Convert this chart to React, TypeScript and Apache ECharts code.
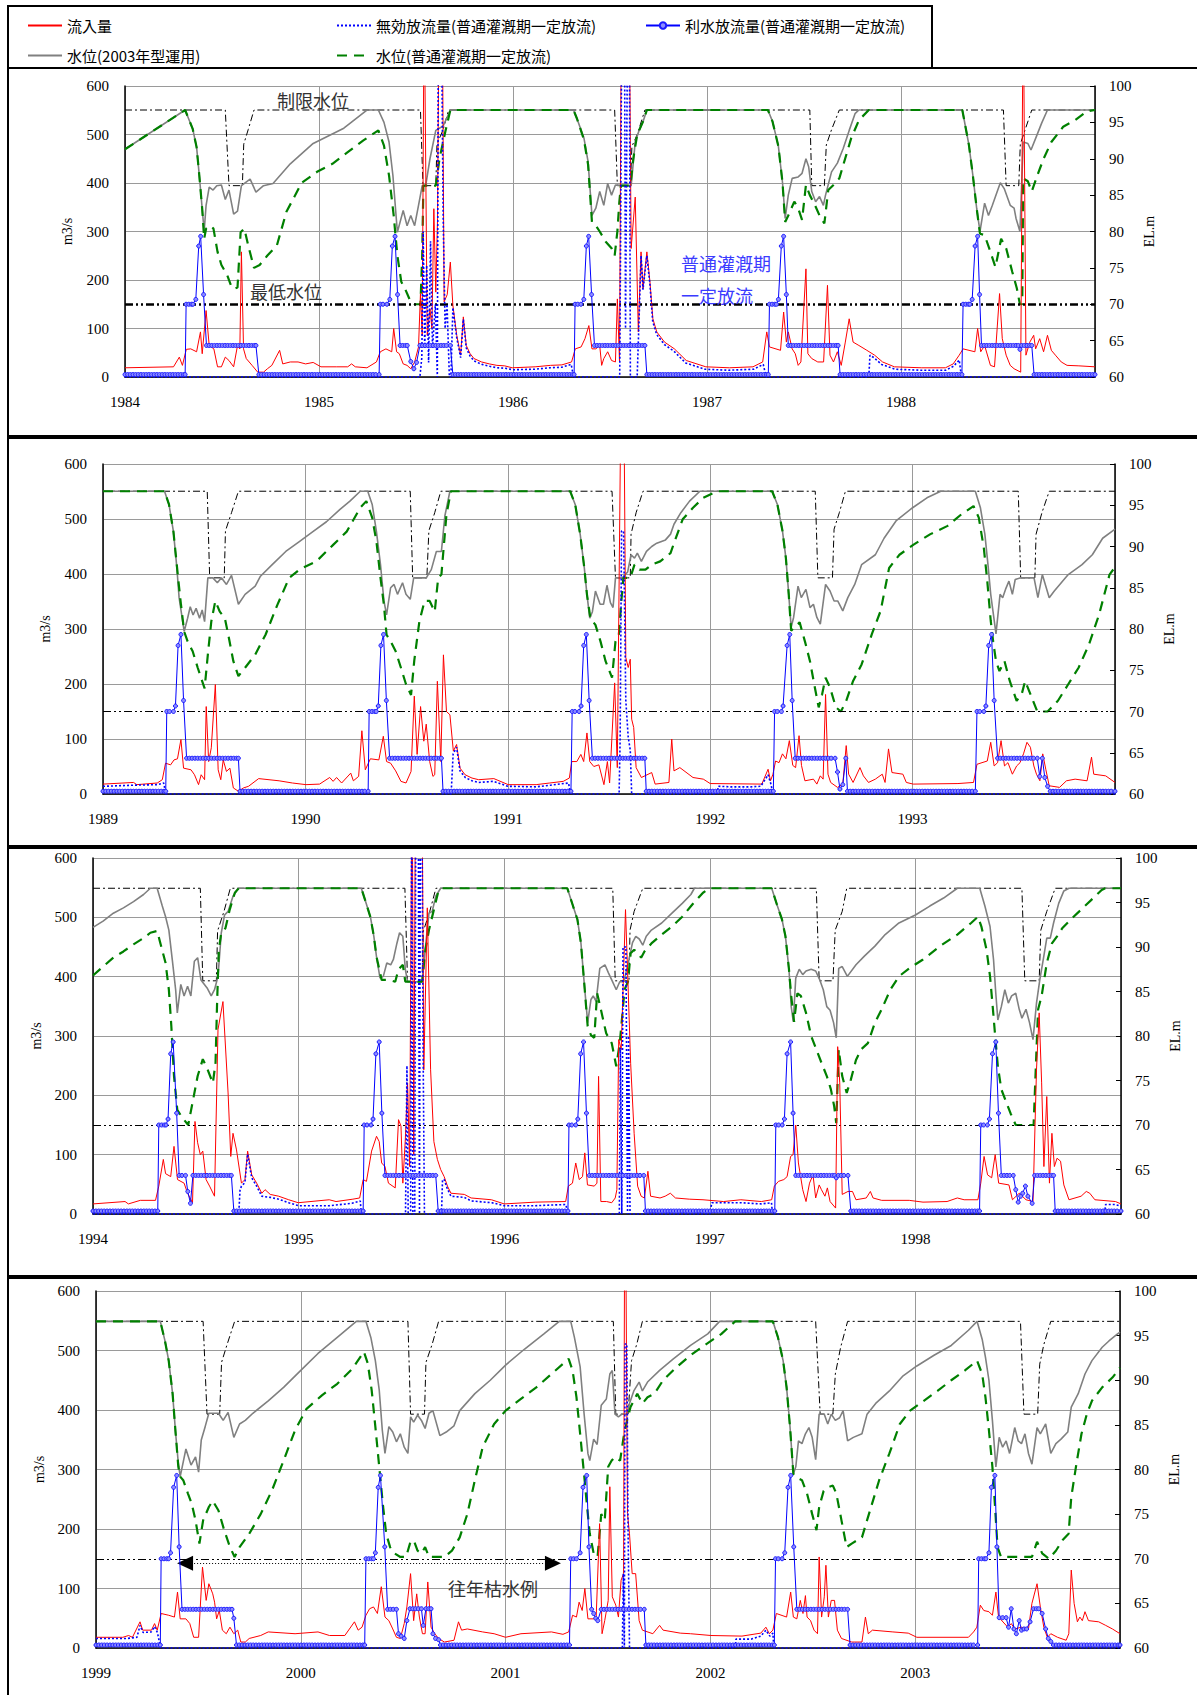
import React, { useEffect, useRef } from "react";
import * as echarts from "echarts";

// ---------- data (x = fractional year, flows in m3/s, levels in EL.m) ----------
const panelStartYears = [1984, 1989, 1994, 1999];

// ---- Panel 1 : 1984-1988 ----
const inflowP1 = [[1984,19],[1984.25,21],[1984.28,41],[1984.296,24],[1984.316,57],[1984.339,58],[1984.369,52],[1984.389,93],[1984.398,48],[1984.418,137],[1984.434,65],[1984.458,58],[1984.477,21],[1984.497,21],[1984.517,41],[1984.536,34],[1984.56,21],[1984.58,65],[1984.592,58],[1984.6,258],[1984.611,58],[1984.625,38],[1984.655,24],[1984.684,10],[1984.714,10],[1984.734,17],[1984.757,24],[1984.797,55],[1984.813,27],[1984.852,31],[1984.892,31],[1984.931,27],[1984.97,30],[1985.01,21],[1985.089,21],[1985.148,21],[1985.168,27],[1985.187,21],[1985.247,19],[1985.296,31],[1985.316,52],[1985.345,58],[1985.375,52],[1985.385,100],[1985.4,52],[1985.414,48],[1985.434,27],[1985.454,24],[1985.473,17],[1985.493,31],[1985.513,62],[1985.523,172],[1985.532,86],[1985.542,800],[1985.558,86],[1985.572,141],[1985.582,100],[1985.592,347],[1985.602,175],[1985.611,326],[1985.621,900],[1985.635,800],[1985.645,155],[1985.661,170],[1985.677,237],[1985.69,148],[1985.71,86],[1985.73,45],[1985.744,124],[1985.759,65],[1985.779,48],[1985.799,38],[1985.838,31],[1985.878,27],[1985.917,24],[1985.957,23],[1985.996,19],[1986.114,21],[1986.193,24],[1986.252,25],[1986.302,31],[1986.321,58],[1986.351,62],[1986.371,79],[1986.391,106],[1986.407,58],[1986.427,58],[1986.447,65],[1986.457,24],[1986.468,38],[1986.488,52],[1986.508,34],[1986.528,31],[1986.538,161],[1986.549,31],[1986.559,800],[1986.573,700],[1986.585,900],[1986.599,800],[1986.609,265],[1986.63,371],[1986.646,93],[1986.66,258],[1986.67,182],[1986.69,258],[1986.706,196],[1986.721,120],[1986.741,93],[1986.781,72],[1986.832,58],[1986.893,34],[1986.994,21],[1987.115,19],[1987.237,21],[1987.287,31],[1987.308,93],[1987.322,62],[1987.379,55],[1987.395,134],[1987.409,72],[1987.419,93],[1987.439,58],[1987.455,48],[1987.47,24],[1987.484,31],[1987.51,223],[1987.52,48],[1987.54,38],[1987.571,31],[1987.601,31],[1987.621,189],[1987.634,45],[1987.652,31],[1987.672,52],[1987.692,24],[1987.713,72],[1987.733,120],[1987.753,72],[1987.783,65],[1987.824,55],[1987.864,45],[1987.905,31],[1987.966,21],[1988.107,19],[1988.229,19],[1988.269,27],[1988.3,45],[1988.32,58],[1988.381,52],[1988.395,100],[1988.411,52],[1988.431,65],[1988.461,24],[1988.482,21],[1988.508,172],[1988.522,79],[1988.542,45],[1988.563,24],[1988.583,17],[1988.617,10],[1988.63,800],[1988.644,45],[1988.664,72],[1988.684,86],[1988.694,58],[1988.715,79],[1988.735,52],[1988.755,86],[1988.775,55],[1988.796,45],[1988.826,31],[1988.856,24],[1988.917,23],[1989,21]];
const wasteP1 = [[1984,0],[1985.52,0],[1985.53,40],[1985.537,300],[1985.545,60],[1985.555,230],[1985.565,30],[1985.575,280],[1985.585,60],[1985.6,150],[1985.61,0],[1985.615,700],[1985.632,700],[1985.64,330],[1985.65,100],[1985.66,150],[1985.672,0],[1985.68,0],[1985.69,143],[1985.71,81],[1985.73,40],[1985.744,119],[1985.759,60],[1985.779,43],[1985.8,33],[1985.84,26],[1985.88,22],[1985.92,19],[1985.96,18],[1986.0,15],[1986.11,16],[1986.19,19],[1986.25,20],[1986.3,26],[1986.312,0],[1986.55,0],[1986.555,300],[1986.56,700],[1986.575,700],[1986.58,100],[1986.59,700],[1986.6,700],[1986.605,0],[1986.64,0],[1986.65,120],[1986.66,250],[1986.67,180],[1986.69,250],[1986.706,190],[1986.72,115],[1986.74,88],[1986.78,67],[1986.83,53],[1986.89,29],[1986.99,16],[1987.11,14],[1987.24,16],[1987.29,26],[1987.305,0],[1987.834,0],[1987.84,45],[1987.86,40],[1987.9,26],[1987.97,16],[1988.1,14],[1988.23,14],[1988.27,22],[1988.3,35],[1988.312,0],[1989,0]];
const releaseP1 = [[1984,5],[1984.31,5],[1984.315,150],[1984.35,150],[1984.365,160],[1984.38,270],[1984.39,290],[1984.405,170],[1984.42,65],[1984.675,65],[1984.69,5],[1985.31,5],[1985.316,150],[1985.35,150],[1985.365,160],[1985.378,270],[1985.392,290],[1985.405,170],[1985.418,65],[1985.455,65],[1985.473,32],[1985.489,17],[1985.503,30],[1985.52,65],[1985.677,65],[1985.69,5],[1986.315,5],[1986.32,150],[1986.35,150],[1986.365,160],[1986.378,270],[1986.39,290],[1986.405,170],[1986.42,65],[1986.68,65],[1986.69,5],[1987.316,5],[1987.322,150],[1987.358,150],[1987.368,160],[1987.383,270],[1987.395,290],[1987.409,170],[1987.419,65],[1987.676,65],[1987.686,5],[1988.314,5],[1988.32,150],[1988.355,150],[1988.367,160],[1988.382,270],[1988.395,290],[1988.405,170],[1988.415,65],[1988.605,65],[1988.613,57],[1988.622,65],[1988.674,65],[1988.686,5],[1989,5]];
const levelP1 = [[1984,91.3],[1984.31,96.7],[1984.349,94.1],[1984.369,91.6],[1984.383,87.7],[1984.398,83.1],[1984.408,80.0],[1984.418,83.6],[1984.434,86.1],[1984.454,85.7],[1984.473,86.3],[1984.497,86.4],[1984.517,84.4],[1984.536,85.7],[1984.56,82.4],[1984.58,82.8],[1984.6,86.3],[1984.645,87.2],[1984.675,85.4],[1984.714,86.3],[1984.763,86.6],[1984.852,89.3],[1984.97,92.1],[1985.128,94.2],[1985.247,96.7],[1985.306,96.7],[1985.335,95.0],[1985.361,92.3],[1985.381,87.7],[1985.404,79.9],[1985.434,82.9],[1985.454,80.8],[1985.473,82.2],[1985.493,80.8],[1985.513,83.6],[1985.532,86.3],[1985.55,86.3],[1985.572,90.0],[1985.602,93.9],[1985.64,94.5],[1985.677,96.7],[1986.312,96.7],[1986.33,95.5],[1986.366,92.8],[1986.387,89.6],[1986.407,82.2],[1986.427,83.2],[1986.447,85.5],[1986.468,83.6],[1986.488,86.6],[1986.508,85.0],[1986.528,86.4],[1986.609,86.3],[1986.63,92.3],[1986.65,93.9],[1986.67,95.1],[1986.69,96.7],[1987.314,96.7],[1987.338,95.1],[1987.368,91.7],[1987.389,86.8],[1987.403,81.8],[1987.419,85.0],[1987.439,87.3],[1987.47,87.5],[1987.49,88.0],[1987.51,90.0],[1987.524,88.9],[1987.54,85.5],[1987.56,84.1],[1987.58,84.8],[1987.6,83.6],[1987.611,85.0],[1987.642,88.2],[1987.672,89.4],[1987.702,91.4],[1987.733,93.9],[1987.763,96.2],[1987.783,96.7],[1988.316,96.7],[1988.35,91.9],[1988.37,87.8],[1988.39,83.2],[1988.407,80.0],[1988.431,83.9],[1988.451,82.2],[1988.471,83.6],[1988.512,86.7],[1988.532,85.9],[1988.563,83.6],[1988.583,83.2],[1988.593,81.8],[1988.613,80.0],[1988.63,92.3],[1988.654,92.1],[1988.67,91.2],[1988.694,92.8],[1988.725,94.9],[1988.755,96.7],[1989,96.7]];
const greenP1 = [[1984,91.3],[1984.31,96.7],[1984.349,94.1],[1984.369,91.6],[1984.383,87.7],[1984.398,83.1],[1984.408,79.0],[1984.418,80.4],[1984.44,80.8],[1984.456,80.4],[1984.477,77.2],[1984.497,75.4],[1984.527,74.0],[1984.546,72.6],[1984.56,72.1],[1984.58,72.3],[1984.596,79.9],[1984.615,80.4],[1984.635,78.1],[1984.665,75.0],[1984.694,75.4],[1984.734,76.7],[1984.783,78.1],[1984.832,82.7],[1984.911,86.7],[1984.99,88.2],[1985.069,89.3],[1985.148,90.9],[1985.227,92.5],[1985.306,93.9],[1985.335,91.8],[1985.361,87.7],[1985.385,82.2],[1985.404,76.7],[1985.424,73.1],[1985.444,72.1],[1985.473,70.3],[1985.493,70.0],[1985.523,70.0],[1985.532,76.7],[1985.538,86.3],[1985.602,86.3],[1985.621,90.0],[1985.651,93.7],[1985.677,96.7],[1986.312,96.7],[1986.33,95.5],[1986.366,92.6],[1986.387,89.2],[1986.407,81.3],[1986.427,80.8],[1986.447,80.0],[1986.478,78.6],[1986.508,77.7],[1986.524,76.7],[1986.538,80.0],[1986.548,84.0],[1986.556,86.3],[1986.605,86.3],[1986.62,90.0],[1986.64,93.3],[1986.67,95.1],[1986.69,96.7],[1987.314,96.7],[1987.338,95.1],[1987.368,91.7],[1987.389,86.8],[1987.403,81.3],[1987.419,82.2],[1987.45,84.1],[1987.47,83.2],[1987.49,81.6],[1987.51,86.4],[1987.53,85.0],[1987.557,83.6],[1987.58,82.2],[1987.605,81.1],[1987.625,85.7],[1987.652,86.4],[1987.682,87.3],[1987.712,90.0],[1987.743,92.8],[1987.783,95.3],[1987.834,96.7],[1988.316,96.7],[1988.35,91.9],[1988.37,87.8],[1988.39,83.2],[1988.407,79.7],[1988.431,79.5],[1988.461,77.2],[1988.487,75.1],[1988.516,79.0],[1988.542,77.7],[1988.573,74.5],[1988.597,72.2],[1988.613,70.0],[1988.625,70.0],[1988.63,87.3],[1988.654,86.9],[1988.674,85.5],[1988.704,87.8],[1988.735,90.0],[1988.775,92.3],[1988.836,94.4],[1988.897,95.3],[1988.957,96.5],[1989,96.7]];
const limitP1 = [[1984,96.7],[1984.517,96.7],[1984.536,86.3],[1984.605,86.3],[1984.612,92.0],[1984.635,94.0],[1984.665,96.7],[1985.523,96.7],[1985.536,86.3],[1985.602,86.3],[1985.608,92.0],[1985.64,94.0],[1985.668,96.7],[1986.524,96.7],[1986.538,86.3],[1986.605,86.3],[1986.613,91.7],[1986.64,93.3],[1986.68,96.7],[1987.53,96.7],[1987.54,86.3],[1987.605,86.3],[1987.615,91.9],[1987.642,94.0],[1987.682,96.7],[1988.528,96.7],[1988.542,86.3],[1988.607,86.3],[1988.615,92.0],[1988.64,94.0],[1988.674,96.7],[1989,96.7]];

// ---- Panel 2 : 1989-1993 ----
const inflowP2 = [[1989,18],[1989.151,21],[1989.167,17],[1989.268,20],[1989.293,26],[1989.309,56],[1989.334,53],[1989.351,62],[1989.368,64],[1989.385,99],[1989.398,47],[1989.435,44],[1989.452,35],[1989.472,17],[1989.485,35],[1989.502,26],[1989.51,159],[1989.522,59],[1989.535,84],[1989.555,199],[1989.569,44],[1989.582,26],[1989.594,62],[1989.61,41],[1989.627,47],[1989.644,11],[1989.669,5],[1989.694,11],[1989.719,14],[1989.769,28],[1989.87,24],[1989.936,20],[1990.003,17],[1990.07,18],[1990.12,30],[1990.137,23],[1990.154,30],[1990.179,20],[1990.224,38],[1990.237,24],[1990.263,32],[1990.279,115],[1990.296,44],[1990.321,64],[1990.363,62],[1990.385,105],[1990.401,59],[1990.421,56],[1990.446,42],[1990.472,23],[1990.497,20],[1990.522,41],[1990.538,178],[1990.552,72],[1990.569,159],[1990.585,96],[1990.597,127],[1990.614,59],[1990.63,32],[1990.639,35],[1990.652,205],[1990.669,59],[1990.682,253],[1990.697,150],[1990.714,144],[1990.731,78],[1990.747,90],[1990.764,47],[1990.789,35],[1990.823,29],[1990.856,26],[1990.931,28],[1991.002,17],[1991.14,17],[1991.207,20],[1991.274,23],[1991.304,29],[1991.316,59],[1991.341,59],[1991.361,72],[1991.375,59],[1991.391,111],[1991.405,59],[1991.425,50],[1991.45,53],[1991.475,17],[1991.492,59],[1991.503,20],[1991.528,202],[1991.541,48],[1991.561,800],[1991.575,650],[1991.583,248],[1991.595,230],[1991.605,245],[1991.612,136],[1991.622,121],[1991.634,48],[1991.66,30],[1991.711,39],[1991.728,18],[1991.796,21],[1991.81,100],[1991.821,42],[1991.85,48],[1991.915,30],[1991.966,27],[1992.0,19],[1992.255,18],[1992.286,45],[1992.298,24],[1992.31,36],[1992.323,60],[1992.34,57],[1992.357,73],[1992.374,64],[1992.391,97],[1992.408,52],[1992.422,48],[1992.439,106],[1992.451,52],[1992.468,24],[1992.51,27],[1992.527,18],[1992.544,33],[1992.558,27],[1992.57,181],[1992.582,36],[1992.595,21],[1992.629,12],[1992.655,18],[1992.672,88],[1992.684,36],[1992.706,21],[1992.74,48],[1992.757,33],[1992.782,21],[1992.816,27],[1992.85,36],[1992.864,21],[1992.881,82],[1992.898,39],[1992.952,36],[1992.969,21],[1993.003,18],[1993.224,19],[1993.301,21],[1993.318,54],[1993.343,57],[1993.369,60],[1993.386,94],[1993.403,51],[1993.42,57],[1993.437,97],[1993.454,51],[1993.471,57],[1993.493,36],[1993.514,51],[1993.531,57],[1993.548,73],[1993.565,94],[1993.582,85],[1993.599,51],[1993.612,36],[1993.629,24],[1993.643,73],[1993.658,45],[1993.675,15],[1993.726,12],[1993.76,24],[1993.803,27],[1993.862,24],[1993.884,67],[1993.895,36],[1993.954,33],[1994,21]];
const wasteP2 = [[1989,14],[1989.15,16],[1989.27,17],[1989.3,20],[1989.31,0],[1990.72,0],[1990.73,73],[1990.747,85],[1990.764,42],[1990.79,30],[1990.823,24],[1990.856,21],[1990.93,23],[1991.0,14],[1991.14,13],[1991.21,16],[1991.3,20],[1991.31,0],[1991.55,0],[1991.555,100],[1991.562,478],[1991.572,478],[1991.583,170],[1991.595,103],[1991.605,80],[1991.612,0],[1992.034,0],[1992.04,14],[1992.1,13],[1992.2,13],[1992.25,14],[1992.286,35],[1992.3,18],[1992.31,0],[1994,0]];
const releaseP2 = [[1989,5],[1989.31,5],[1989.315,150],[1989.348,150],[1989.358,160],[1989.371,270],[1989.385,290],[1989.398,170],[1989.413,65],[1989.669,65],[1989.677,5],[1990.31,5],[1990.315,150],[1990.35,150],[1990.36,160],[1990.373,270],[1990.386,290],[1990.4,170],[1990.416,65],[1990.672,65],[1990.68,5],[1991.312,5],[1991.318,150],[1991.352,150],[1991.362,160],[1991.375,270],[1991.388,290],[1991.402,170],[1991.418,65],[1991.677,65],[1991.684,5],[1992.312,5],[1992.318,150],[1992.352,150],[1992.36,160],[1992.38,270],[1992.393,290],[1992.405,170],[1992.42,65],[1992.617,65],[1992.629,40],[1992.641,9],[1992.655,17],[1992.67,65],[1992.678,5],[1993.31,5],[1993.318,150],[1993.352,150],[1993.362,160],[1993.376,270],[1993.39,290],[1993.403,170],[1993.42,65],[1993.616,65],[1993.628,32],[1993.641,65],[1993.653,30],[1993.667,14],[1993.68,5],[1994,5]];
const levelP2 = [[1989,96.7],[1989.304,96.7],[1989.326,95.1],[1989.348,91.8],[1989.365,87.4],[1989.376,83.8],[1989.401,79.7],[1989.418,81.3],[1989.431,82.7],[1989.445,81.7],[1989.46,82.5],[1989.477,81.3],[1989.49,82.3],[1989.502,80.9],[1989.518,86.2],[1989.543,86.2],[1989.565,85.6],[1989.585,86.2],[1989.61,85.4],[1989.635,86.5],[1989.669,83.0],[1989.702,84.2],[1989.752,85.2],[1989.778,86.4],[1989.836,87.8],[1989.903,89.4],[1989.97,90.6],[1990.037,91.8],[1990.104,93.0],[1990.171,94.5],[1990.22,95.5],[1990.271,96.7],[1990.308,96.7],[1990.33,95.1],[1990.351,91.8],[1990.371,87.8],[1990.388,83.4],[1990.401,81.7],[1990.421,85.0],[1990.438,85.4],[1990.455,84.2],[1990.48,85.6],[1990.497,84.2],[1990.518,83.6],[1990.535,86.2],[1990.597,86.2],[1990.622,87.2],[1990.647,89.4],[1990.672,89.4],[1990.689,93.7],[1990.714,96.7],[1991.308,96.7],[1991.333,95.1],[1991.358,91.4],[1991.378,87.4],[1991.391,84.2],[1991.405,81.3],[1991.418,82.1],[1991.433,84.6],[1991.456,83.0],[1991.473,83.0],[1991.49,85.3],[1991.507,83.2],[1991.52,82.6],[1991.532,86.2],[1991.566,86.2],[1991.592,86.9],[1991.609,89.0],[1991.626,88.6],[1991.64,89.2],[1991.66,88.2],[1991.685,89.4],[1991.711,90.0],[1991.736,90.4],[1991.779,90.8],[1991.804,91.5],[1991.821,92.7],[1991.855,94.1],[1991.898,95.5],[1991.949,96.7],[1992.306,96.7],[1992.332,95.1],[1992.357,91.9],[1992.374,88.6],[1992.388,84.2],[1992.4,80.2],[1992.412,81.4],[1992.434,85.2],[1992.45,83.8],[1992.473,84.8],[1992.493,82.6],[1992.51,83.0],[1992.527,81.4],[1992.544,80.6],[1992.57,85.4],[1992.592,84.6],[1992.612,83.4],[1992.63,83.4],[1992.655,82.2],[1992.68,83.8],[1992.714,85.4],[1992.748,87.8],[1992.816,89.0],[1992.859,91.0],[1992.918,93.1],[1993.0,94.7],[1993.071,95.9],[1993.139,96.7],[1993.31,96.7],[1993.335,94.7],[1993.357,91.5],[1993.374,87.4],[1993.386,84.2],[1993.412,79.4],[1993.432,84.2],[1993.445,83.8],[1993.459,84.8],[1993.476,85.8],[1993.493,84.2],[1993.507,86.0],[1993.534,86.2],[1993.6,86.2],[1993.619,83.8],[1993.641,86.6],[1993.675,83.8],[1993.7,84.6],[1993.769,86.6],[1993.837,87.8],[1993.888,89.0],[1993.939,91.0],[1994,92.1]];
const greenP2 = [[1989,96.7],[1989.304,96.7],[1989.326,95.1],[1989.348,91.8],[1989.371,86.2],[1989.385,83.0],[1989.401,79.7],[1989.418,78.5],[1989.443,77.3],[1989.468,75.3],[1989.502,72.8],[1989.518,76.9],[1989.535,80.9],[1989.555,83.4],[1989.577,82.1],[1989.602,81.3],[1989.619,79.3],[1989.644,76.1],[1989.669,74.3],[1989.702,75.3],[1989.752,76.9],[1989.803,79.3],[1989.861,82.9],[1989.92,86.2],[1989.97,87.2],[1990.054,88.2],[1990.137,90.2],[1990.204,91.8],[1990.271,94.7],[1990.301,95.5],[1990.33,93.5],[1990.351,90.6],[1990.371,86.2],[1990.388,82.9],[1990.401,79.3],[1990.421,78.5],[1990.446,77.3],[1990.472,75.3],[1990.497,73.3],[1990.522,72.0],[1990.538,76.2],[1990.563,80.9],[1990.589,83.4],[1990.614,83.4],[1990.639,82.1],[1990.656,86.2],[1990.672,86.6],[1990.697,93.9],[1990.719,96.7],[1991.308,96.7],[1991.333,95.1],[1991.358,91.4],[1991.378,87.4],[1991.391,84.2],[1991.408,81.3],[1991.433,80.5],[1991.458,78.5],[1991.483,76.1],[1991.515,74.1],[1991.532,78.5],[1991.549,79.4],[1991.561,83.4],[1991.571,86.2],[1991.605,86.2],[1991.626,87.8],[1991.651,87.2],[1991.68,87.2],[1991.711,87.8],[1991.753,88.2],[1991.804,89.2],[1991.821,90.4],[1991.864,93.3],[1991.915,94.7],[1991.966,95.9],[1992.034,96.7],[1992.306,96.7],[1992.332,95.1],[1992.357,91.9],[1992.374,88.6],[1992.388,84.2],[1992.4,79.8],[1992.417,80.2],[1992.442,80.8],[1992.468,78.5],[1992.493,76.1],[1992.514,73.3],[1992.536,70.5],[1992.553,72.1],[1992.57,74.1],[1992.592,72.9],[1992.621,70.5],[1992.646,70.0],[1992.672,71.3],[1992.706,73.7],[1992.748,75.7],[1992.799,79.4],[1992.842,82.2],[1992.884,87.4],[1992.935,89.0],[1993.003,90.2],[1993.088,91.5],[1993.173,92.5],[1993.241,93.9],[1993.301,94.9],[1993.327,93.5],[1993.352,89.8],[1993.369,85.8],[1993.386,81.0],[1993.398,78.5],[1993.412,76.1],[1993.429,74.9],[1993.454,76.1],[1993.48,73.7],[1993.514,71.3],[1993.539,72.1],[1993.556,73.7],[1993.582,72.1],[1993.616,70.0],[1993.667,70.0],[1993.718,71.3],[1993.769,73.3],[1993.82,75.3],[1993.871,78.1],[1993.922,81.8],[1993.973,86.6],[1994,87.5]];
const limitP2 = [[1989,96.7],[1989.515,96.7],[1989.527,86.2],[1989.599,86.2],[1989.605,91.9],[1989.635,94.1],[1989.669,96.7],[1990.518,96.7],[1990.53,86.2],[1990.6,86.2],[1990.61,91.9],[1990.639,94.1],[1990.669,96.7],[1991.515,96.7],[1991.532,86.2],[1991.605,86.2],[1991.609,91.5],[1991.634,94.1],[1991.668,96.7],[1992.519,96.7],[1992.532,86.2],[1992.604,86.2],[1992.612,92.1],[1992.638,94.1],[1992.668,96.7],[1993.522,96.7],[1993.534,86.2],[1993.604,86.2],[1993.61,91.5],[1993.639,94.1],[1993.675,96.7],[1994,96.7]];

// ---- Panel 3 : 1994-1998 ----
const inflowP3 = [[1994,17],[1994.156,21],[1994.172,17],[1994.23,23],[1994.304,23],[1994.32,47],[1994.342,92],[1994.353,68],[1994.378,63],[1994.394,114],[1994.411,58],[1994.443,52],[1994.46,35],[1994.484,19],[1994.496,156],[1994.509,120],[1994.522,100],[1994.534,106],[1994.55,58],[1994.567,47],[1994.591,30],[1994.608,311],[1994.632,358],[1994.657,204],[1994.67,97],[1994.681,136],[1994.698,108],[1994.722,52],[1994.739,58],[1994.752,106],[1994.772,66],[1994.796,52],[1994.821,35],[1994.837,41],[1994.862,33],[1994.903,30],[1994.952,24],[1994.998,19],[1995.149,24],[1995.182,21],[1995.264,25],[1995.297,27],[1995.314,58],[1995.33,55],[1995.355,106],[1995.379,131],[1995.392,122],[1995.404,86],[1995.42,80],[1995.437,52],[1995.47,44],[1995.486,159],[1995.498,148],[1995.507,52],[1995.519,125],[1995.53,221],[1995.54,80],[1995.552,800],[1995.56,100],[1995.568,700],[1995.576,800],[1995.589,900],[1995.601,700],[1995.609,243],[1995.626,516],[1995.642,243],[1995.658,122],[1995.675,92],[1995.691,75],[1995.708,63],[1995.724,47],[1995.741,35],[1995.806,33],[1995.839,27],[1995.938,24],[1996.0,17],[1996.151,20],[1996.299,21],[1996.312,47],[1996.332,52],[1996.348,86],[1996.365,58],[1996.381,63],[1996.392,103],[1996.405,49],[1996.438,47],[1996.451,52],[1996.459,232],[1996.47,21],[1996.498,21],[1996.523,19],[1996.54,27],[1996.548,41],[1996.557,294],[1996.569,277],[1996.579,389],[1996.59,513],[1996.602,389],[1996.615,254],[1996.632,136],[1996.649,47],[1996.666,30],[1996.682,27],[1996.699,72],[1996.712,30],[1996.758,27],[1996.783,30],[1996.808,35],[1996.833,27],[1996.9,25],[1996.967,24],[1997.067,21],[1997.151,24],[1997.251,21],[1997.301,24],[1997.314,47],[1997.334,55],[1997.36,58],[1997.376,63],[1997.393,97],[1997.405,100],[1997.418,150],[1997.431,86],[1997.452,41],[1997.468,21],[1997.485,52],[1997.502,66],[1997.515,27],[1997.532,49],[1997.543,41],[1997.56,30],[1997.572,44],[1997.585,21],[1997.612,10],[1997.622,282],[1997.632,221],[1997.644,33],[1997.672,38],[1997.694,38],[1997.711,24],[1997.761,27],[1997.781,38],[1997.794,27],[1997.836,23],[1997.97,23],[1998.037,20],[1998.154,21],[1998.204,27],[1998.237,24],[1998.304,24],[1998.318,52],[1998.334,97],[1998.351,66],[1998.371,61],[1998.388,100],[1998.405,52],[1998.455,49],[1998.472,24],[1998.505,35],[1998.538,24],[1998.572,21],[1998.589,243],[1998.602,339],[1998.614,221],[1998.625,80],[1998.639,198],[1998.652,52],[1998.664,136],[1998.676,80],[1998.689,94],[1998.706,89],[1998.722,49],[1998.747,24],[1998.806,30],[1998.831,38],[1998.848,35],[1998.873,24],[1998.973,21],[1999,17]];
const wasteP3 = [[1994,0],[1994.709,0],[1994.715,40],[1994.722,47],[1994.739,53],[1994.752,101],[1994.772,61],[1994.796,47],[1994.821,30],[1994.862,28],[1994.903,25],[1994.952,19],[1995.0,14],[1995.15,14],[1995.26,18],[1995.3,22],[1995.305,0],[1995.52,0],[1995.527,250],[1995.533,0],[1995.545,0],[1995.55,700],[1995.556,0],[1995.565,0],[1995.57,700],[1995.582,700],[1995.588,0],[1995.592,700],[1995.6,700],[1995.605,300],[1995.612,0],[1995.695,0],[1995.7,58],[1995.708,58],[1995.724,42],[1995.741,30],[1995.806,28],[1995.84,22],[1995.94,19],[1996.0,14],[1996.15,14],[1996.3,16],[1996.31,0],[1996.56,0],[1996.565,280],[1996.572,0],[1996.578,450],[1996.592,450],[1996.6,0],[1996.605,300],[1996.612,0],[1997.0,0],[1997.01,19],[1997.15,19],[1997.25,17],[1997.3,19],[1997.305,0],[1998.92,0],[1998.925,16],[1998.97,16],[1999,13]];
const releaseP3 = [[1994,5],[1994.315,5],[1994.32,150],[1994.355,150],[1994.365,160],[1994.378,270],[1994.39,290],[1994.407,170],[1994.419,65],[1994.45,65],[1994.461,38],[1994.474,18],[1994.486,65],[1994.673,65],[1994.685,5],[1995.314,5],[1995.319,150],[1995.352,150],[1995.362,160],[1995.376,270],[1995.392,290],[1995.405,170],[1995.42,65],[1995.667,65],[1995.679,5],[1996.31,5],[1996.315,150],[1996.348,150],[1996.358,160],[1996.372,270],[1996.386,290],[1996.4,170],[1996.414,65],[1996.679,65],[1996.687,5],[1997.316,5],[1997.321,150],[1997.352,150],[1997.363,160],[1997.376,270],[1997.393,290],[1997.405,170],[1997.418,65],[1997.607,65],[1997.615,61],[1997.625,65],[1997.672,65],[1997.686,5],[1998.312,5],[1998.318,150],[1998.35,150],[1998.36,160],[1998.375,270],[1998.391,290],[1998.404,170],[1998.418,65],[1998.476,65],[1998.488,41],[1998.5,20],[1998.512,30],[1998.522,35],[1998.535,47],[1998.547,30],[1998.568,18],[1998.58,65],[1998.672,65],[1998.68,5],[1999,5]];
const levelP3 = [[1994,92.2],[1994.049,92.9],[1994.099,93.8],[1994.148,94.4],[1994.197,95.1],[1994.246,95.9],[1994.279,96.6],[1994.312,96.6],[1994.337,94.6],[1994.353,93.4],[1994.369,91.9],[1994.386,88.5],[1994.402,85.2],[1994.41,82.6],[1994.427,85.8],[1994.443,84.5],[1994.46,85.6],[1994.476,84.5],[1994.493,88.4],[1994.509,88.8],[1994.525,86.3],[1994.555,85.4],[1994.575,84.5],[1994.591,85.2],[1994.608,86.7],[1994.624,91.6],[1994.64,93.6],[1994.657,94.0],[1994.681,95.7],[1994.706,96.6],[1995.305,96.6],[1995.33,94.8],[1995.35,93.3],[1995.366,91.2],[1995.379,88.9],[1995.396,86.5],[1995.412,86.7],[1995.429,88.2],[1995.448,88.0],[1995.461,88.6],[1995.478,90.4],[1995.491,91.6],[1995.507,91.2],[1995.519,87.5],[1995.53,86.1],[1995.601,86.1],[1995.615,89.5],[1995.634,93.8],[1995.65,94.0],[1995.667,95.7],[1995.691,96.6],[1996.307,96.6],[1996.332,94.8],[1996.356,93.1],[1996.373,90.5],[1996.389,86.0],[1996.406,81.5],[1996.422,84.1],[1996.433,84.5],[1996.447,83.9],[1996.465,87.6],[1996.49,88.0],[1996.507,87.1],[1996.523,86.3],[1996.545,85.2],[1996.562,86.1],[1996.582,86.1],[1996.607,88.6],[1996.624,90.5],[1996.64,91.2],[1996.657,90.9],[1996.674,90.2],[1996.691,91.2],[1996.716,91.9],[1996.766,92.7],[1996.816,93.8],[1996.866,94.9],[1996.908,95.9],[1996.925,96.6],[1997.301,96.6],[1997.326,94.8],[1997.351,93.1],[1997.368,91.2],[1997.385,87.5],[1997.396,83.3],[1997.406,81.6],[1997.418,86.5],[1997.435,87.5],[1997.452,86.9],[1997.468,87.3],[1997.493,87.5],[1997.515,87.3],[1997.535,86.3],[1997.552,85.2],[1997.569,83.3],[1997.585,82.9],[1997.602,81.5],[1997.615,79.8],[1997.627,87.6],[1997.644,87.8],[1997.669,86.7],[1997.711,88.0],[1997.753,89.0],[1997.803,90.1],[1997.853,91.4],[1997.92,92.7],[1998.0,93.6],[1998.07,94.6],[1998.137,95.5],[1998.204,96.6],[1998.313,96.6],[1998.338,94.6],[1998.363,92.3],[1998.38,88.6],[1998.391,84.8],[1998.401,81.8],[1998.418,83.3],[1998.435,85.2],[1998.452,83.7],[1998.468,84.5],[1998.488,84.8],[1998.505,83.0],[1998.518,82.0],[1998.538,83.0],[1998.555,81.5],[1998.572,79.6],[1998.589,83.7],[1998.605,86.3],[1998.622,88.6],[1998.639,91.0],[1998.656,91.0],[1998.672,92.7],[1998.697,94.9],[1998.722,96.3],[1998.747,96.6],[1999,96.6]];
const greenP3 = [[1994,86.8],[1994.049,87.8],[1994.099,88.8],[1994.148,89.5],[1994.197,90.3],[1994.246,91.0],[1994.279,91.6],[1994.312,91.8],[1994.328,90.4],[1994.353,88.2],[1994.369,85.2],[1994.381,81.1],[1994.394,75.5],[1994.41,71.7],[1994.435,70.8],[1994.463,70.0],[1994.484,72.5],[1994.509,75.5],[1994.534,77.4],[1994.558,76.2],[1994.583,74.7],[1994.596,77.0],[1994.604,84.1],[1994.612,89.7],[1994.624,91.6],[1994.644,92.1],[1994.665,94.2],[1994.69,96.1],[1994.709,96.6],[1995.305,96.6],[1995.33,94.8],[1995.35,93.3],[1995.366,91.2],[1995.379,88.9],[1995.404,86.3],[1995.437,86.3],[1995.47,86.1],[1995.486,87.5],[1995.507,88.0],[1995.519,86.1],[1995.601,86.1],[1995.617,89.7],[1995.634,91.9],[1995.658,94.2],[1995.678,96.1],[1995.695,96.6],[1996.307,96.6],[1996.332,94.8],[1996.356,93.1],[1996.373,90.5],[1996.389,86.0],[1996.406,81.1],[1996.422,80.1],[1996.438,79.8],[1996.452,84.8],[1996.47,83.0],[1996.496,80.3],[1996.523,79.2],[1996.545,76.6],[1996.562,79.2],[1996.574,82.2],[1996.585,85.2],[1996.602,86.1],[1996.615,89.3],[1996.632,89.7],[1996.649,89.3],[1996.666,88.8],[1996.682,89.5],[1996.716,90.4],[1996.766,91.4],[1996.816,92.3],[1996.866,93.4],[1996.916,94.8],[1996.967,96.1],[1997.0,96.6],[1997.301,96.6],[1997.326,94.8],[1997.351,93.1],[1997.368,91.2],[1997.385,87.5],[1997.396,84.5],[1997.41,81.6],[1997.426,84.8],[1997.443,84.5],[1997.468,82.6],[1997.493,80.0],[1997.518,78.5],[1997.543,77.0],[1997.569,75.5],[1997.589,74.0],[1997.605,72.1],[1997.615,70.2],[1997.627,78.5],[1997.644,75.5],[1997.666,73.6],[1997.686,75.1],[1997.711,77.3],[1997.736,78.5],[1997.769,79.2],[1997.803,81.5],[1997.836,83.0],[1997.878,85.2],[1997.92,86.7],[1997.97,87.6],[1998.037,88.6],[1998.12,90.1],[1998.204,91.4],[1998.271,92.7],[1998.304,93.4],[1998.321,92.3],[1998.346,89.7],[1998.363,86.7],[1998.376,83.3],[1998.388,80.0],[1998.401,76.6],[1998.418,74.0],[1998.438,72.8],[1998.463,71.3],[1998.488,70.0],[1998.575,70.0],[1998.589,78.5],[1998.597,83.0],[1998.614,84.5],[1998.639,88.2],[1998.664,90.4],[1998.689,91.2],[1998.714,92.1],[1998.756,93.1],[1998.806,94.2],[1998.856,95.3],[1998.906,96.4],[1998.923,96.6],[1999,96.6]];
const limitP3 = [[1994,96.6],[1994.522,96.6],[1994.534,86.2],[1994.6,86.2],[1994.606,91.8],[1994.637,94.0],[1994.668,96.6],[1995.517,96.6],[1995.53,86.1],[1995.6,86.1],[1995.607,91.8],[1995.638,94.0],[1995.668,96.6],[1996.528,96.6],[1996.54,86.2],[1996.607,86.2],[1996.612,91.9],[1996.632,94.0],[1996.674,96.6],[1997.518,96.6],[1997.532,86.2],[1997.599,86.2],[1997.61,91.9],[1997.644,94.0],[1997.666,96.6],[1998.518,96.6],[1998.532,86.2],[1998.602,86.2],[1998.61,91.9],[1998.639,94.0],[1998.68,96.6],[1999,96.6]];

// ---- Panel 4 : 1999-2003 ----
const inflowP4 = [[1999,18],[1999.131,18],[1999.159,21],[1999.178,18],[1999.215,44],[1999.228,30],[1999.271,30],[1999.286,41],[1999.299,30],[1999.318,58],[1999.355,55],[1999.383,52],[1999.398,94],[1999.411,49],[1999.439,49],[1999.458,41],[1999.477,18],[1999.501,18],[1999.52,136],[1999.538,80],[1999.551,108],[1999.57,91],[1999.579,77],[1999.589,49],[1999.602,63],[1999.617,30],[1999.636,24],[1999.654,35],[1999.673,24],[1999.692,30],[1999.707,10],[1999.729,10],[1999.748,16],[1999.804,21],[1999.841,27],[1999.972,24],[2000.084,27],[2000.14,21],[2000.215,21],[2000.262,44],[2000.28,30],[2000.299,35],[2000.318,55],[2000.336,66],[2000.355,69],[2000.374,58],[2000.393,103],[2000.411,52],[2000.43,46],[2000.449,32],[2000.467,18],[2000.486,16],[2000.505,41],[2000.518,69],[2000.536,125],[2000.551,46],[2000.566,91],[2000.579,52],[2000.594,24],[2000.607,24],[2000.62,111],[2000.636,35],[2000.654,24],[2000.673,16],[2000.701,10],[2000.748,13],[2000.77,44],[2000.785,30],[2000.813,32],[2000.888,27],[2000.944,24],[2001.0,18],[2001.075,24],[2001.224,27],[2001.28,23],[2001.308,27],[2001.327,55],[2001.346,52],[2001.359,77],[2001.374,63],[2001.387,100],[2001.402,49],[2001.442,49],[2001.459,209],[2001.471,24],[2001.484,46],[2001.501,80],[2001.509,271],[2001.521,86],[2001.538,72],[2001.551,52],[2001.564,114],[2001.576,125],[2001.583,900],[2001.595,226],[2001.605,192],[2001.618,125],[2001.635,125],[2001.652,46],[2001.668,30],[2001.719,24],[2001.752,38],[2001.769,30],[2001.853,25],[2001.903,24],[2002.003,21],[2002.154,20],[2002.246,25],[2002.271,35],[2002.288,24],[2002.305,30],[2002.322,58],[2002.372,52],[2002.392,94],[2002.405,52],[2002.422,49],[2002.439,80],[2002.452,58],[2002.464,88],[2002.472,52],[2002.489,46],[2002.506,30],[2002.523,24],[2002.531,153],[2002.543,52],[2002.556,86],[2002.564,139],[2002.576,52],[2002.59,80],[2002.606,80],[2002.62,30],[2002.64,16],[2002.69,10],[2002.74,10],[2002.757,52],[2002.771,24],[2002.791,30],[2002.891,27],[2002.966,25],[2003.008,18],[2003.26,18],[2003.285,27],[2003.301,35],[2003.318,72],[2003.335,63],[2003.36,61],[2003.377,55],[2003.394,94],[2003.407,52],[2003.452,35],[2003.469,41],[2003.486,32],[2003.519,35],[2003.553,32],[2003.57,75],[2003.595,108],[2003.611,69],[2003.628,35],[2003.645,18],[2003.662,24],[2003.695,18],[2003.737,13],[2003.75,24],[2003.762,131],[2003.776,75],[2003.792,44],[2003.804,52],[2003.816,46],[2003.829,61],[2003.846,46],[2003.896,44],[2003.93,38],[2003.963,32],[2004,24]];
const wasteP4 = [[1999,16],[1999.15,16],[1999.2,18],[1999.215,38],[1999.23,26],[1999.27,27],[1999.286,36],[1999.3,26],[1999.315,0],[2001.57,0],[2001.575,125],[2001.58,0],[2001.583,511],[2001.592,511],[2001.598,198],[2001.605,0],[2002.12,0],[2002.125,15],[2002.2,15],[2002.246,20],[2002.271,30],[2002.29,20],[2002.305,25],[2002.31,0],[2004,0]];
const releaseP4 = [[1999,5],[1999.314,5],[1999.318,150],[1999.355,150],[1999.364,160],[1999.379,270],[1999.394,290],[1999.406,170],[1999.42,65],[1999.664,65],[1999.673,50],[1999.686,5],[2000.312,5],[2000.318,150],[2000.355,150],[2000.364,160],[2000.378,270],[2000.389,290],[2000.41,170],[2000.424,65],[2000.467,65],[2000.477,24],[2000.49,20],[2000.505,16],[2000.518,46],[2000.533,66],[2000.589,66],[2000.598,38],[2000.611,66],[2000.636,66],[2000.645,24],[2000.658,16],[2000.673,14],[2000.682,5],[2001.312,5],[2001.318,150],[2001.346,150],[2001.364,160],[2001.378,270],[2001.396,290],[2001.407,170],[2001.42,65],[2001.43,58],[2001.44,50],[2001.45,46],[2001.467,65],[2001.677,65],[2001.685,5],[2002.312,5],[2002.318,150],[2002.35,150],[2002.363,160],[2002.379,270],[2002.392,290],[2002.407,170],[2002.422,65],[2002.67,65],[2002.682,5],[2003.305,5],[2003.31,150],[2003.345,150],[2003.36,160],[2003.372,270],[2003.389,290],[2003.399,170],[2003.41,51],[2003.427,51],[2003.444,51],[2003.456,35],[2003.469,66],[2003.482,32],[2003.494,24],[2003.508,46],[2003.519,30],[2003.531,32],[2003.544,32],[2003.561,44],[2003.578,66],[2003.603,66],[2003.62,58],[2003.637,32],[2003.65,16],[2003.662,11],[2003.675,5],[2004,5]];
const levelP4 = [[1999,96.6],[1999.314,96.6],[1999.336,94.5],[1999.355,92.2],[1999.374,88.5],[1999.389,84.0],[1999.402,80.7],[1999.411,79.2],[1999.421,80.3],[1999.439,82.3],[1999.464,80.5],[1999.486,81.4],[1999.501,79.7],[1999.514,83.3],[1999.533,84.8],[1999.551,86.3],[1999.598,86.3],[1999.621,85.5],[1999.645,86.4],[1999.673,83.6],[1999.701,85.1],[1999.729,85.5],[1999.766,86.3],[1999.841,87.7],[1999.916,89.2],[2000.0,91.1],[2000.084,93.0],[2000.178,94.8],[2000.271,96.6],[2000.318,96.6],[2000.342,94.8],[2000.364,92.2],[2000.383,88.9],[2000.398,84.4],[2000.411,81.8],[2000.43,84.8],[2000.449,84.2],[2000.467,83.1],[2000.486,84.0],[2000.505,82.5],[2000.523,81.8],[2000.536,85.9],[2000.551,85.3],[2000.57,86.1],[2000.589,85.5],[2000.607,84.6],[2000.626,86.3],[2000.645,86.6],[2000.679,83.8],[2000.71,84.2],[2000.748,84.9],[2000.776,86.6],[2000.85,88.5],[2000.925,90.0],[2001.0,91.7],[2001.093,93.5],[2001.187,95.2],[2001.262,96.6],[2001.318,96.6],[2001.336,94.8],[2001.364,91.5],[2001.383,86.3],[2001.402,81.8],[2001.411,81.0],[2001.43,83.4],[2001.447,82.8],[2001.467,87.2],[2001.492,87.9],[2001.509,90.7],[2001.521,91.1],[2001.534,86.2],[2001.551,85.9],[2001.568,86.2],[2001.593,86.2],[2001.605,87.4],[2001.626,88.8],[2001.652,89.8],[2001.668,88.8],[2001.693,89.8],[2001.752,91.1],[2001.819,92.4],[2001.903,93.9],[2001.987,95.2],[2002.045,96.6],[2002.305,96.6],[2002.33,94.8],[2002.355,92.2],[2002.372,89.2],[2002.389,84.7],[2002.405,79.5],[2002.417,80.3],[2002.43,83.2],[2002.447,82.9],[2002.464,84.0],[2002.481,84.7],[2002.497,83.6],[2002.514,81.1],[2002.531,86.2],[2002.556,86.2],[2002.573,85.1],[2002.59,86.2],[2002.61,85.5],[2002.631,85.8],[2002.648,86.6],[2002.67,83.2],[2002.698,83.6],[2002.74,84.0],[2002.765,86.2],[2002.807,87.4],[2002.874,88.8],[2002.941,90.5],[2003.008,91.6],[2003.092,92.8],[2003.176,93.9],[2003.26,95.6],[2003.302,96.6],[2003.327,94.6],[2003.343,92.6],[2003.36,90.0],[2003.377,85.5],[2003.394,80.3],[2003.41,83.6],[2003.427,82.5],[2003.444,83.2],[2003.461,81.8],[2003.486,84.7],[2003.503,83.2],[2003.519,82.9],[2003.536,84.0],[2003.553,81.8],[2003.57,80.6],[2003.595,84.7],[2003.611,84.0],[2003.637,85.1],[2003.662,81.8],[2003.687,82.9],[2003.712,83.4],[2003.745,84.2],[2003.762,87.0],[2003.796,88.5],[2003.829,90.7],[2003.863,92.2],[2003.913,93.7],[2003.946,94.4],[2003.988,95.2],[2004,95.4]];
const greenP4 = [[1999,96.6],[1999.314,96.6],[1999.336,94.5],[1999.355,92.2],[1999.374,88.5],[1999.389,84.0],[1999.402,80.3],[1999.411,79.2],[1999.426,78.8],[1999.449,77.3],[1999.467,76.2],[1999.486,74.3],[1999.505,71.7],[1999.523,74.3],[1999.551,75.8],[1999.57,76.5],[1999.598,75.4],[1999.626,73.2],[1999.654,71.3],[1999.677,70.2],[1999.701,71.3],[1999.748,72.8],[1999.804,75.0],[1999.86,77.7],[1999.916,81.0],[1999.972,84.4],[2000.028,86.8],[2000.103,88.3],[2000.178,89.6],[2000.252,91.3],[2000.308,93.2],[2000.327,91.9],[2000.346,88.9],[2000.364,84.8],[2000.383,80.3],[2000.402,75.8],[2000.417,72.8],[2000.436,71.3],[2000.458,70.6],[2000.486,70.2],[2000.514,70.2],[2000.533,71.7],[2000.551,72.1],[2000.57,70.9],[2000.589,70.6],[2000.607,71.3],[2000.626,70.2],[2000.701,70.2],[2000.738,70.9],[2000.776,72.4],[2000.813,75.0],[2000.85,78.8],[2000.888,82.5],[2000.944,85.1],[2001.0,86.6],[2001.075,87.9],[2001.15,89.2],[2001.224,90.7],[2001.308,92.4],[2001.327,91.1],[2001.346,88.1],[2001.364,84.0],[2001.383,79.5],[2001.398,75.8],[2001.411,72.8],[2001.43,70.6],[2001.449,70.2],[2001.467,75.0],[2001.484,74.3],[2001.501,80.3],[2001.518,81.0],[2001.534,81.4],[2001.559,81.0],[2001.576,83.6],[2001.593,85.5],[2001.61,87.0],[2001.626,87.7],[2001.643,88.5],[2001.668,87.4],[2001.693,88.1],[2001.727,88.5],[2001.769,90.0],[2001.836,91.5],[2001.903,92.8],[2001.97,93.9],[2002.054,95.2],[2002.121,96.6],[2002.305,96.6],[2002.33,94.8],[2002.355,92.2],[2002.372,89.2],[2002.389,84.7],[2002.405,79.5],[2002.422,79.1],[2002.447,78.8],[2002.472,77.3],[2002.497,75.0],[2002.518,73.2],[2002.531,75.8],[2002.553,77.6],[2002.573,78.0],[2002.598,78.2],[2002.615,77.3],[2002.64,74.3],[2002.665,71.3],[2002.69,71.7],[2002.74,72.4],[2002.774,75.0],[2002.824,78.8],[2002.874,81.8],[2002.925,85.1],[2002.975,86.6],[2003.042,87.7],[2003.109,88.8],[2003.176,90.0],[2003.243,91.1],[2003.302,92.2],[2003.327,90.7],[2003.343,88.1],[2003.36,84.4],[2003.377,80.3],[2003.39,75.8],[2003.402,71.3],[2003.419,70.2],[2003.57,70.2],[2003.595,71.9],[2003.62,70.6],[2003.653,70.0],[2003.687,70.9],[2003.72,72.1],[2003.749,72.8],[2003.762,76.9],[2003.787,80.6],[2003.812,84.0],[2003.838,86.2],[2003.863,87.7],[2003.913,89.2],[2003.963,90.3],[2004,91.4]];
const limitP4 = [[1999,96.6],[1999.523,96.6],[1999.542,86.2],[1999.604,86.2],[1999.613,92.0],[1999.64,94.0],[1999.677,96.6],[2000.523,96.6],[2000.536,86.2],[2000.604,86.2],[2000.611,92.0],[2000.641,94.0],[2000.673,96.6],[2001.526,96.6],[2001.538,86.2],[2001.598,86.2],[2001.615,92.2],[2001.64,94.0],[2001.668,96.6],[2002.514,96.6],[2002.536,86.2],[2002.598,86.2],[2002.61,90.7],[2002.636,93.7],[2002.67,96.6],[2003.514,96.6],[2003.531,86.2],[2003.598,86.2],[2003.608,91.8],[2003.628,94.0],[2003.662,96.6],[2004,96.6]];

// reference levels
const minLevel = 70; // 最低水位 EL.m
const dryYearArrow = [[1999.435, 69.5], [2001.231, 69.5]]; // 往年枯水例 span

// ---------- presentation ----------
const N_INFLOW = "流入量";
const N_WASTE = "無効放流量(普通灌漑期一定放流)";
const N_RELEASE = "利水放流量(普通灌漑期一定放流)";
const N_LEVEL03 = "水位(2003年型運用)";
const N_LEVELN = "水位(普通灌漑期一定放流)";

const SERIF = "'Liberation Serif', 'Noto Sans CJK JP', serif";
const JP = "'Noto Sans CJK JP', 'Liberation Serif', sans-serif";

// 5-day observation runs: consecutive keyframes with the same value stand for
// a run of equal 5-day readings (plotted with a marker at each reading).
const STEP = 5 / 365;
function expandRuns(keys: number[][]) {
  const out: number[][] = [];
  for (let i = 0; i < keys.length; i++) {
    const [t, v] = keys[i];
    out.push([t, v]);
    const nx = keys[i + 1];
    if (nx && nx[1] === v) {
      for (let s = t + STEP; s < nx[0] - STEP * 0.5; s += STEP) out.push([+s.toFixed(4), v]);
    }
  }
  return out;
}

const panels = [
  { inflow: inflowP1, waste: wasteP1, release: releaseP1, level: levelP1, green: greenP1, limit: limitP1 },
  { inflow: inflowP2, waste: wasteP2, release: releaseP2, level: levelP2, green: greenP2, limit: limitP2 },
  { inflow: inflowP3, waste: wasteP3, release: releaseP3, level: levelP3, green: greenP3, limit: limitP3 },
  { inflow: inflowP4, waste: wasteP4, release: releaseP4, level: levelP4, green: greenP4, limit: limitP4 },
];

const grids = [
  { left: 125, top: 86, width: 970, height: 291, lgap: 51, rgap: 47 },
  { left: 103, top: 464, width: 1012, height: 330, lgap: 51, rgap: 44 },
  { left: 93, top: 858, width: 1028, height: 356, lgap: 50, rgap: 43 },
  { left: 96, top: 1291, width: 1024, height: 357, lgap: 49, rgap: 44 },
];

function buildOption() {
  const grid: any[] = [];
  const xAxis: any[] = [];
  const yAxis: any[] = [];
  const series: any[] = [];

  panels.forEach((p, i) => {
    const g = grids[i];
    grid.push({ left: g.left, top: g.top, width: g.width, height: g.height, containLabel: false });
    const y0 = panelStartYears[i];
    xAxis.push({
      type: "value", gridIndex: i, min: y0, max: y0 + 5, interval: 1,
      axisLine: { show: true, onZero: false, lineStyle: { color: "#000", width: 1.5 } },
      axisTick: { show: false },
      axisLabel: { showMaxLabel: false, margin: 17, fontSize: 15, fontFamily: SERIF, color: "#000", formatter: (v: number) => String(v) },
      splitLine: { show: true, lineStyle: { color: "#9a9a9a", width: 1 } },
    });
    yAxis.push({
      type: "value", gridIndex: i, min: 0, max: 600, interval: 100, position: "left",
      name: "m3/s", nameLocation: "middle", nameGap: g.lgap, nameRotate: 90,
      nameTextStyle: { fontSize: 14, fontFamily: SERIF, color: "#000" },
      axisLine: { show: true, lineStyle: { color: "#000", width: 1.5 } },
      axisTick: { show: false },
      axisLabel: { margin: 16, fontSize: 15, fontFamily: SERIF, color: "#000" },
      splitLine: { show: true, lineStyle: { color: "#9a9a9a", width: 1 } },
    });
    yAxis.push({
      type: "value", gridIndex: i, min: 60, max: 100, interval: 5, position: "right",
      name: "EL.m", nameLocation: "middle", nameGap: g.rgap, nameRotate: 90,
      nameTextStyle: { fontSize: 14, fontFamily: SERIF, color: "#000" },
      axisLine: { show: true, lineStyle: { color: "#000", width: 1.5 } },
      axisTick: { show: true, inside: true, length: 5, lineStyle: { color: "#000" } },
      axisLabel: { margin: 14, fontSize: 15, fontFamily: SERIF, color: "#000" },
      splitLine: { show: false },
    });
    const ly = i * 2, ry = i * 2 + 1;
    const markData: any[] = [
      { yAxis: minLevel, lineStyle: { color: "#000", width: i === 0 ? 2.5 : 1, type: [8, 3, 2, 3, 2, 3] } },
    ];
    if (i === 3) {
      markData.push([
        { coord: dryYearArrow[0], symbol: "triangle", symbolSize: [15, 16], lineStyle: { color: "#000", width: 1.2, type: [1, 2] } },
        { coord: dryYearArrow[1], symbol: "triangle", symbolSize: [15, 16] },
      ]);
    }
    series.push({
      name: "制限水位", type: "line", xAxisIndex: i, yAxisIndex: ry, data: p.limit,
      showSymbol: false, symbol: "none", lineStyle: { color: "#000", width: 1, type: [7, 3, 2, 3] }, z: 2,
      markLine: { silent: true, symbol: ["none", "none"], label: { show: false }, data: markData, itemStyle: { color: "#000" } },
    });
    series.push({
      name: N_LEVEL03, type: "line", xAxisIndex: i, yAxisIndex: ry, data: p.level,
      showSymbol: false, symbol: "none", lineStyle: { color: "#808080", width: 1.6 }, itemStyle: { color: "#808080" }, z: 3,
    });
    series.push({
      name: N_LEVELN, type: "line", xAxisIndex: i, yAxisIndex: ry, data: p.green,
      showSymbol: false, symbol: "none", lineStyle: { color: "#008000", width: 2.2, type: [10, 7] }, itemStyle: { color: "#008000" }, z: 4,
    });
    series.push({
      name: N_INFLOW, type: "line", xAxisIndex: i, yAxisIndex: ly, data: p.inflow,
      showSymbol: false, symbol: "none", lineStyle: { color: "#ff0000", width: 1 }, itemStyle: { color: "#ff0000" }, z: 5,
    });
    series.push({
      name: N_WASTE, type: "line", xAxisIndex: i, yAxisIndex: ly, data: p.waste,
      showSymbol: false, symbol: "none", lineStyle: { color: "#0000ff", width: 1.6, type: [2, 2] }, itemStyle: { color: "#0000ff" }, z: 6,
    });
    series.push({
      name: N_RELEASE, type: "line", xAxisIndex: i, yAxisIndex: ly, data: expandRuns(p.release),
      showSymbol: true, symbol: "circle", symbolSize: 4,
      lineStyle: { color: "#0000ff", width: 1 },
      itemStyle: { color: "#8c8cff", borderColor: "#1a1aff", borderWidth: 1 }, z: 7,
    });
  });

  const legendBase = {
    itemWidth: 34, itemHeight: 8, selectedMode: false,
    textStyle: { fontSize: 15, fontFamily: JP, color: "#000" },
  };
  const plain = (name: string) => ({ name, itemStyle: { opacity: 0, borderWidth: 0 } });
  const legend = [
    { ...legendBase, data: [plain(N_INFLOW)], left: 22, top: 13 },
    { ...legendBase, data: [plain(N_WASTE)], left: 331, top: 13 },
    { ...legendBase, data: [{ name: N_RELEASE }], left: 640, top: 13 },
    { ...legendBase, data: [plain(N_LEVEL03)], left: 22, top: 43 },
    { ...legendBase, data: [plain(N_LEVELN)], left: 331, top: 43 },
  ];

  const box = (x: number, y: number, w: number, h: number) => ({
    type: "rect", shape: { x, y, width: w, height: h }, silent: true,
    style: { fill: "none", stroke: "#000", lineWidth: 2 },
  });
  const note = (text: string, x: number, y: number, color: string) => ({
    type: "text", x, y, silent: true, z: 100,
    style: { text, fill: color, font: `18px ${JP}`, textVerticalAlign: "middle" },
  });

  const graphic = [
    box(8, 6, 924, 62),
    box(8, 68, 1200, 368),
    box(8, 438, 1200, 408),
    box(8, 848, 1200, 428),
    box(8, 1278, 1200, 430),
    note("制限水位", 277, 100, "#333"),
    note("最低水位", 250, 291, "#333"),
    note("普通灌漑期", 681, 263, "#3b3bff"),
    note("一定放流", 681, 295, "#3b3bff"),
    note("往年枯水例", 448, 1588, "#333"),
  ];

  return { animation: false, backgroundColor: "#fff", legend, grid, xAxis, yAxis, series, graphic };
}

export default function App() {
  const ref = useRef<HTMLDivElement>(null);
  useEffect(() => {
    if (!ref.current) return;
    const chart = echarts.init(ref.current, undefined, { renderer: "svg" });
    chart.setOption(buildOption() as any);
    return () => chart.dispose();
  }, []);
  return (
    <div
      ref={ref}
      style={{ position: "absolute", left: 0, top: 0, width: 1197, height: 1695, background: "#fff" }}
    />
  );
}
